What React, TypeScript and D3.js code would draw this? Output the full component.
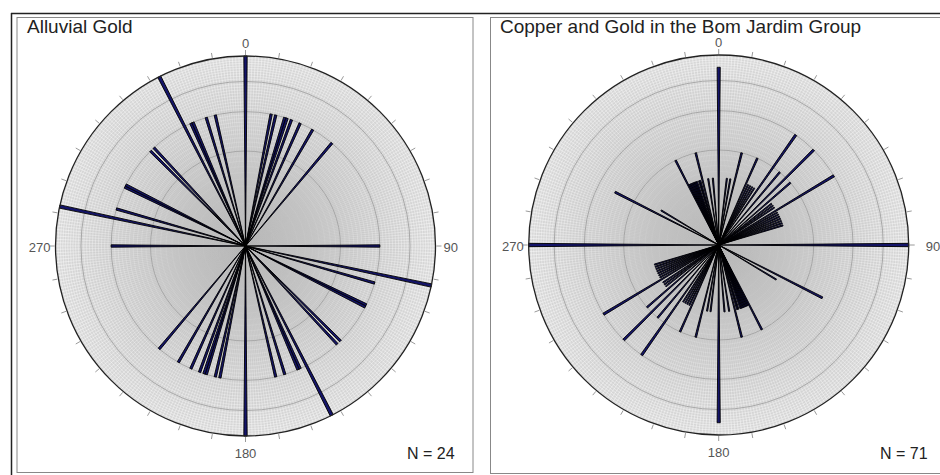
import React, { useEffect, useRef } from 'react';
import * as d3 from 'd3';

// Axial directions (degrees, 1° bins) and number of measurements per bin.
// Every bin is plotted twice (dir and dir + 180).
const alluvialDirections = [0, 11, 13, 17, 18, 20, 24, 30, 40, 90, 102, 106, 116, 117, 135, 137, 153, 156, 157, 163, 167];
const alluvialCounts = [2, 1, 1, 1, 1, 1, 1, 1, 1, 1, 2, 1, 1, 1, 1, 1, 2, 1, 1, 1, 1];

const bomJardimDirections = [
  0, 7, 10, 14, 24, 26, 28, 30, 32, 35, 40, 45, 49, 52, 54, 56, 59, 61, 63, 65, 67, 69, 71, 73,
  90, 117, 121, 153, 154, 155, 156, 157, 158, 159, 160, 161, 163, 164, 166, 171, 175,
];
const bomJardimCounts = [
  7, 1, 1, 2, 2, 1, 1, 1, 1, 4, 2, 4, 2, 1, 1, 1, 4, 1, 1, 1, 1, 1, 1, 1,
  8, 3, 1, 2, 1, 1, 1, 1, 1, 1, 1, 1, 1, 1, 2, 1, 1,
];

const cardinalLabels = ['0', '90', '180', '270'];

interface Panel {
  title: string;
  directions: number[];
  counts: number[];
  cx: number;
  cy: number;
  titleX: number;
  nX: number;
  label90Dx: number;
}

const panels: Panel[] = [
  { title: 'Alluvial Gold', directions: alluvialDirections, counts: alluvialCounts, cx: 245.5, cy: 246, titleX: 27, nX: 407, label90Dx: 8 },
  { title: 'Copper and Gold in the Bom Jardim Group', directions: bomJardimDirections, counts: bomJardimCounts, cx: 718.7, cy: 245, titleX: 500, nX: 880, label90Dx: 17 },
];

const R = 190;
const FONT = '"Liberation Sans", Arial, sans-serif';
const rad = (d: number) => (d * Math.PI) / 180;

export default function App() {
  const svgRef = useRef<SVGSVGElement>(null);

  useEffect(() => {
    if (!svgRef.current) return;
    const svg = d3.select(svgRef.current);
    svg.selectAll('*').remove();

    const defs = svg.append('defs');
    const grad = defs.append('radialGradient').attr('id', 'roseBg');
    grad.append('stop').attr('offset', '0%').attr('stop-color', '#b4b4b4');
    grad.append('stop').attr('offset', '50%').attr('stop-color', '#c6c6c6');
    grad.append('stop').attr('offset', '100%').attr('stop-color', '#d8d8d8');

    // white hatching fades out toward the centre
    const hatch = defs.append('radialGradient').attr('id', 'hatch')
      .attr('gradientUnits', 'userSpaceOnUse')
      .attr('cx', 0).attr('cy', 0).attr('r', R);
    hatch.append('stop').attr('offset', '0%').attr('stop-color', '#fff').attr('stop-opacity', 0);
    hatch.append('stop').attr('offset', '35%').attr('stop-color', '#fff').attr('stop-opacity', 0.1);
    hatch.append('stop').attr('offset', '100%').attr('stop-color', '#fff').attr('stop-opacity', 0.75);

    // Frames
    svg.append('line').attr('x1', 11).attr('x2', 940).attr('y1', 13.5).attr('y2', 13.5)
      .attr('stroke', '#222').attr('stroke-width', 1.5);
    svg.append('line').attr('x1', 11.5).attr('x2', 11.5).attr('y1', 13).attr('y2', 475)
      .attr('stroke', '#222').attr('stroke-width', 1.5);
    svg.append('rect').attr('x', 17).attr('y', 17.5).attr('width', 456).attr('height', 455)
      .attr('fill', 'none').attr('stroke', '#888');
    svg.append('rect').attr('x', 490.5).attr('y', 17.5).attr('width', 460).attr('height', 456)
      .attr('fill', 'none').attr('stroke', '#888');

    panels.forEach(p => {
      const maxCount = d3.max(p.counts) || 1;
      const r = d3.scaleSqrt().domain([0, maxCount]).range([0, R]);
      const g = svg.append('g').attr('transform', `translate(${p.cx},${p.cy})`);

      // Background grid
      g.append('circle').attr('r', R).attr('fill', 'url(#roseBg)');
      g.append('g').selectAll('line')
        .data(d3.range(0, 360, 1))
        .join('line')
        .attr('x1', 0).attr('y1', 0)
        .attr('x2', d => R * Math.sin(rad(d)))
        .attr('y2', d => -R * Math.cos(rad(d)))
        .attr('stroke', 'url(#hatch)')
        .attr('stroke-width', 0.6);
      g.append('g').selectAll('circle')
        .data(d3.range(1, 40))
        .join('circle')
        .attr('r', d => r((maxCount * d) / 40))
        .attr('fill', 'none')
        .attr('stroke', 'url(#hatch)')
        .attr('stroke-width', 0.55);
      g.append('g').selectAll('circle')
        .data([0.25, 0.5, 0.75])
        .join('circle')
        .attr('r', d => r(maxCount * d))
        .attr('fill', 'none')
        .attr('stroke', '#a0a0a0')
        .attr('stroke-width', 0.9);

      // Ticks every 10 degrees
      g.append('g').selectAll('line')
        .data(d3.range(0, 360, 10))
        .join('line')
        .attr('x1', d => (R + 1) * Math.sin(rad(d)))
        .attr('y1', d => -(R + 1) * Math.cos(rad(d)))
        .attr('x2', d => (R + 6) * Math.sin(rad(d)))
        .attr('y2', d => -(R + 6) * Math.cos(rad(d)))
        .attr('stroke', '#9a9a9a')
        .attr('stroke-width', 1);

      // Petals
      const bins = p.directions.flatMap((dir, i) => [
        { angle: dir, count: p.counts[i] },
        { angle: dir + 180, count: p.counts[i] },
      ]).sort((a, b) => b.count - a.count);

      const arc = d3.arc<{ angle: number; count: number }>()
        .innerRadius(0)
        .outerRadius(d => r(d.count))
        .startAngle(d => rad(d.angle - 0.5))
        .endAngle(d => rad(d.angle + 0.5));

      g.append('g').selectAll('path')
        .data(bins)
        .join('path')
        .attr('d', d => arc(d) || '')
        .attr('fill', '#14146a')
        .attr('stroke', '#000')
        .attr('stroke-width', 0.9)
        .attr('stroke-linejoin', 'bevel');

      // Outer circle
      g.append('circle').attr('r', R).attr('fill', 'none')
        .attr('stroke', '#222').attr('stroke-width', 1.3);

      // Cardinal labels
      const labelStyle = (t: d3.Selection<SVGTextElement, unknown, null, undefined>) =>
        t.style('font-family', FONT)
          .style('font-size', '13px')
          .attr('fill', '#555');
      g.append('text').attr('x', 0).attr('y', -R - 8.5).attr('text-anchor', 'middle')
        .call(labelStyle).text(cardinalLabels[0]);
      g.append('text').attr('x', R + p.label90Dx).attr('y', 6).attr('text-anchor', 'start')
        .call(labelStyle).text(cardinalLabels[1]);
      g.append('text').attr('x', 0).attr('y', R + 22).attr('text-anchor', 'middle')
        .call(labelStyle).text(cardinalLabels[2]);
      g.append('text').attr('x', -R - 5).attr('y', 6).attr('text-anchor', 'end')
        .call(labelStyle).text(cardinalLabels[3]);

      // Title and N
      svg.append('text')
        .attr('x', p.titleX).attr('y', 32.5)
        .style('font-family', FONT)
        .style('font-size', '19px')
        .attr('fill', '#222')
        .text(p.title);
      svg.append('text')
        .attr('x', p.nX).attr('y', 458.5)
        .style('font-family', FONT)
        .style('font-size', '16px')
        .attr('fill', '#222')
        .text(`N = ${d3.sum(p.counts)}`);
    });
  }, []);

  return (
    <svg
      ref={svgRef}
      width={940}
      height={475}
      style={{ position: 'absolute', left: 0, top: 0, background: '#fff' }}
    />
  );
}
